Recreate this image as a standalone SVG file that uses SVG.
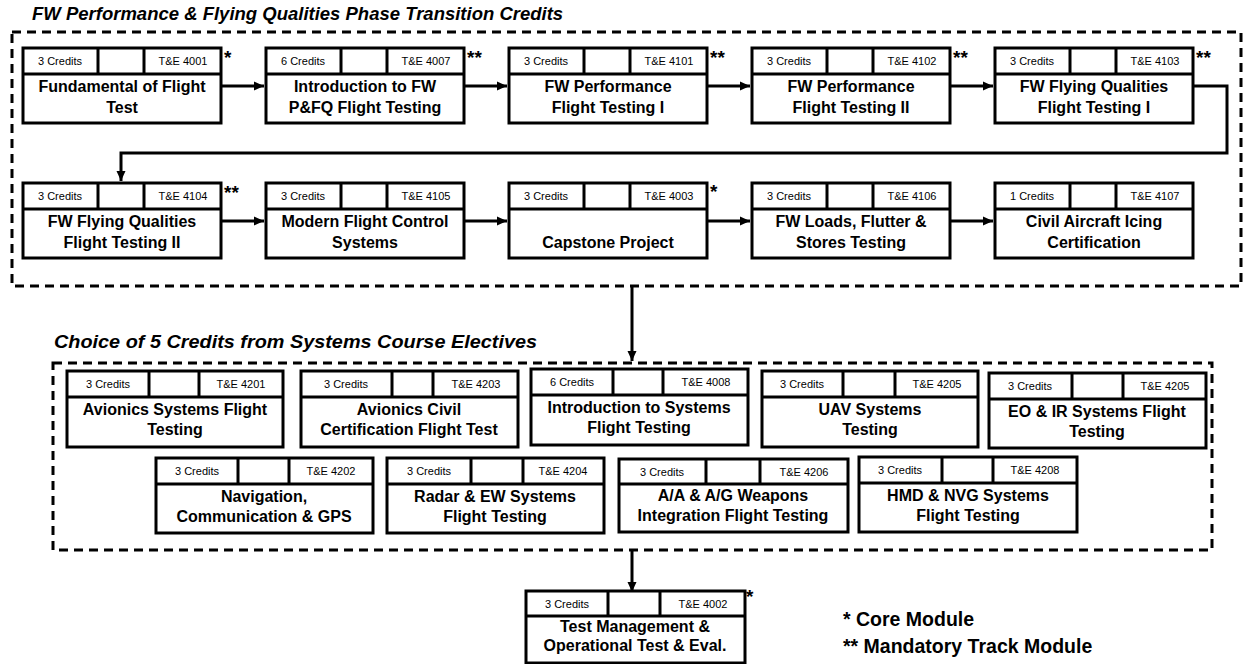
<svg xmlns="http://www.w3.org/2000/svg" width="1252" height="664" viewBox="0 0 1252 664">
<defs>
<style>
.frame{fill:none;stroke:#000;stroke-width:3;stroke-dasharray:9 6}
.nb{fill:#fff;stroke:#000;stroke-width:3}
.nl{fill:none;stroke:#000;stroke-width:3}
.sm{font-family:"Liberation Sans",Arial,sans-serif;font-size:11px;fill:#000;text-anchor:middle}
.tt{font-family:"Liberation Sans",Arial,sans-serif;font-size:16px;font-weight:bold;fill:#000;text-anchor:middle}
.hd{font-family:"Liberation Sans",Arial,sans-serif;font-size:18.5px;font-weight:bold;font-style:italic;fill:#000}
.st{font-family:"Liberation Sans",Arial,sans-serif;font-size:19px;font-weight:bold;fill:#000}
.lg{font-family:"Liberation Sans",Arial,sans-serif;font-size:19.5px;font-weight:bold;fill:#000}
.cn{fill:none;stroke:#000;stroke-width:3}
</style>
<marker id="ah" viewBox="0 0 10 10" refX="10" refY="5" markerWidth="10" markerHeight="10" markerUnits="userSpaceOnUse" orient="auto">
<path d="M0,0.5 L10,5 L0,9.5 Z" fill="#000"/>
</marker>
</defs>

<text class="hd" x="32" y="20">FW Performance &amp; Flying Qualities Phase Transition Credits</text>
<rect class="frame" x="12" y="32" width="1229" height="254"/>
<text class="hd" x="54" y="348" textLength="483" lengthAdjust="spacingAndGlyphs">Choice of 5 Credits from Systems Course Electives</text>
<rect class="frame" x="53" y="363" width="1159" height="187"/>

<g id="connectors">
<path class="cn" d="M222,86 H264" marker-end="url(#ah)"/>
<path class="cn" d="M465,86 H507" marker-end="url(#ah)"/>
<path class="cn" d="M708,86 H750" marker-end="url(#ah)"/>
<path class="cn" d="M951,86 H993" marker-end="url(#ah)"/>
<path class="cn" d="M1194,86 H1227 V153 H121 V181" marker-end="url(#ah)"/>
<path class="cn" d="M222,221 H264" marker-end="url(#ah)"/>
<path class="cn" d="M465,221 H507" marker-end="url(#ah)"/>
<path class="cn" d="M708,221 H750" marker-end="url(#ah)"/>
<path class="cn" d="M951,221 H993" marker-end="url(#ah)"/>
<path class="cn" d="M632,286 V361" marker-end="url(#ah)"/>
<path class="cn" d="M632,550 V592" marker-end="url(#ah)"/>
</g>

<!-- Row 1 -->
<g id="n4001" transform="translate(23,48)">
<rect class="nb" width="198" height="75"/><path class="nl" d="M0,26 H198 M75,0 V26 M121,0 V26"/>
<text class="sm" x="37" y="17">3 Credits</text><text class="sm" x="160" y="17">T&amp;E 4001</text>
<text class="tt" x="99" y="43.5">Fundamental of Flight</text><text class="tt" x="99" y="64.5">Test</text>
</g>
<g id="n4007" transform="translate(266,48)">
<rect class="nb" width="198" height="75"/><path class="nl" d="M0,26 H198 M75,0 V26 M121,0 V26"/>
<text class="sm" x="37" y="17">6 Credits</text><text class="sm" x="160" y="17">T&amp;E 4007</text>
<text class="tt" x="99" y="43.5">Introduction to FW</text><text class="tt" x="99" y="64.5">P&amp;FQ Flight Testing</text>
</g>
<g id="n4101" transform="translate(509,48)">
<rect class="nb" width="198" height="75"/><path class="nl" d="M0,26 H198 M75,0 V26 M121,0 V26"/>
<text class="sm" x="37" y="17">3 Credits</text><text class="sm" x="160" y="17">T&amp;E 4101</text>
<text class="tt" x="99" y="43.5">FW Performance</text><text class="tt" x="99" y="64.5">Flight Testing I</text>
</g>
<g id="n4102" transform="translate(752,48)">
<rect class="nb" width="198" height="75"/><path class="nl" d="M0,26 H198 M75,0 V26 M121,0 V26"/>
<text class="sm" x="37" y="17">3 Credits</text><text class="sm" x="160" y="17">T&amp;E 4102</text>
<text class="tt" x="99" y="43.5">FW Performance</text><text class="tt" x="99" y="64.5">Flight Testing II</text>
</g>
<g id="n4103" transform="translate(995,48)">
<rect class="nb" width="198" height="75"/><path class="nl" d="M0,26 H198 M75,0 V26 M121,0 V26"/>
<text class="sm" x="37" y="17">3 Credits</text><text class="sm" x="160" y="17">T&amp;E 4103</text>
<text class="tt" x="99" y="43.5">FW Flying Qualities</text><text class="tt" x="99" y="64.5">Flight Testing I</text>
</g>

<!-- Row 2 -->
<g id="n4104" transform="translate(23,183)">
<rect class="nb" width="198" height="75"/><path class="nl" d="M0,26 H198 M75,0 V26 M121,0 V26"/>
<text class="sm" x="37" y="17">3 Credits</text><text class="sm" x="160" y="17">T&amp;E 4104</text>
<text class="tt" x="99" y="43.5">FW Flying Qualities</text><text class="tt" x="99" y="64.5">Flight Testing II</text>
</g>
<g id="n4105" transform="translate(266,183)">
<rect class="nb" width="198" height="75"/><path class="nl" d="M0,26 H198 M75,0 V26 M121,0 V26"/>
<text class="sm" x="37" y="17">3 Credits</text><text class="sm" x="160" y="17">T&amp;E 4105</text>
<text class="tt" x="99" y="43.5">Modern Flight Control</text><text class="tt" x="99" y="64.5">Systems</text>
</g>
<g id="n4003" transform="translate(509,183)">
<rect class="nb" width="198" height="75"/><path class="nl" d="M0,26 H198 M75,0 V26 M121,0 V26"/>
<text class="sm" x="37" y="17">3 Credits</text><text class="sm" x="160" y="17">T&amp;E 4003</text>
<text class="tt" x="99" y="64.5">Capstone Project</text>
</g>
<g id="n4106" transform="translate(752,183)">
<rect class="nb" width="198" height="75"/><path class="nl" d="M0,26 H198 M75,0 V26 M121,0 V26"/>
<text class="sm" x="37" y="17">3 Credits</text><text class="sm" x="160" y="17">T&amp;E 4106</text>
<text class="tt" x="99" y="43.5">FW Loads, Flutter &amp;</text><text class="tt" x="99" y="64.5">Stores Testing</text>
</g>
<g id="n4107" transform="translate(995,183)">
<rect class="nb" width="198" height="75"/><path class="nl" d="M0,26 H198 M75,0 V26 M121,0 V26"/>
<text class="sm" x="37" y="17">1 Credits</text><text class="sm" x="160" y="17">T&amp;E 4107</text>
<text class="tt" x="99" y="43.5">Civil Aircraft Icing</text><text class="tt" x="99" y="64.5">Certification</text>
</g>

<!-- Electives row A -->
<g id="n4201" transform="translate(67,371)">
<rect class="nb" width="216" height="76"/><path class="nl" d="M0,26 H216 M82,0 V26 M132,0 V26"/>
<text class="sm" x="41" y="17">3 Credits</text><text class="sm" x="174" y="17">T&amp;E 4201</text>
<text class="tt" x="108" y="43.5">Avionics Systems Flight</text><text class="tt" x="108" y="63.5">Testing</text>
</g>
<g id="n4203" transform="translate(301,371)">
<rect class="nb" width="217" height="76"/><path class="nl" d="M0,26 H217 M91,0 V26 M132,0 V26"/>
<text class="sm" x="45" y="17">3 Credits</text><text class="sm" x="175" y="17">T&amp;E 4203</text>
<text class="tt" x="108" y="43.5">Avionics Civil</text><text class="tt" x="108" y="63.5">Certification Flight Test</text>
</g>
<g id="n4008" transform="translate(531,369)">
<rect class="nb" width="217" height="76"/><path class="nl" d="M0,26 H217 M82,0 V26 M132,0 V26"/>
<text class="sm" x="41" y="17">6 Credits</text><text class="sm" x="175" y="17">T&amp;E 4008</text>
<text class="tt" x="108" y="43.5">Introduction to Systems</text><text class="tt" x="108" y="63.5">Flight Testing</text>
</g>
<g id="n4205a" transform="translate(762,371)">
<rect class="nb" width="216" height="76"/><path class="nl" d="M0,26 H216 M81,0 V26 M133,0 V26"/>
<text class="sm" x="40" y="17">3 Credits</text><text class="sm" x="175" y="17">T&amp;E 4205</text>
<text class="tt" x="108" y="43.5">UAV Systems</text><text class="tt" x="108" y="63.5">Testing</text>
</g>
<g id="n4205b" transform="translate(989,373)">
<rect class="nb" width="217" height="75"/><path class="nl" d="M0,26 H217 M83,0 V26 M134,0 V26"/>
<text class="sm" x="41" y="17">3 Credits</text><text class="sm" x="176" y="17">T&amp;E 4205</text>
<text class="tt" x="108" y="43.5">EO &amp; IR Systems Flight</text><text class="tt" x="108" y="63.5">Testing</text>
</g>

<!-- Electives row B -->
<g id="n4202" transform="translate(156,458)">
<rect class="nb" width="217" height="75"/><path class="nl" d="M0,26 H217 M82,0 V26 M133,0 V26"/>
<text class="sm" x="41" y="17">3 Credits</text><text class="sm" x="175" y="17">T&amp;E 4202</text>
<text class="tt" x="108" y="43.5">Navigation,</text><text class="tt" x="108" y="63.5">Communication &amp; GPS</text>
</g>
<g id="n4204" transform="translate(387,458)">
<rect class="nb" width="217" height="75"/><path class="nl" d="M0,26 H217 M84,0 V26 M136,0 V26"/>
<text class="sm" x="42" y="17">3 Credits</text><text class="sm" x="176" y="17">T&amp;E 4204</text>
<text class="tt" x="108" y="43.5">Radar &amp; EW Systems</text><text class="tt" x="108" y="63.5">Flight Testing</text>
</g>
<g id="n4206" transform="translate(619,459)">
<rect class="nb" width="229" height="73"/><path class="nl" d="M0,25 H229 M87,0 V25 M141,0 V25"/>
<text class="sm" x="43" y="16.5">3 Credits</text><text class="sm" x="185" y="16.5">T&amp;E 4206</text>
<text class="tt" x="114" y="42">A/A &amp; A/G Weapons</text><text class="tt" x="114" y="62">Integration Flight Testing</text>
</g>
<g id="n4208" transform="translate(859,457)">
<rect class="nb" width="218" height="75"/><path class="nl" d="M0,26 H218 M83,0 V26 M134,0 V26"/>
<text class="sm" x="41" y="17">3 Credits</text><text class="sm" x="176" y="17">T&amp;E 4208</text>
<text class="tt" x="109" y="43.5">HMD &amp; NVG Systems</text><text class="tt" x="109" y="63.5">Flight Testing</text>
</g>

<!-- Final -->
<g id="n4002" transform="translate(526,591)">
<rect class="nb" width="219" height="72"/><path class="nl" d="M0,25 H219 M82,0 V25 M134,0 V25"/>
<text class="sm" x="41" y="16.5">3 Credits</text><text class="sm" x="177" y="16.5">T&amp;E 4002</text>
<text class="tt" x="109" y="40.5">Test Management &amp;</text><text class="tt" x="109" y="59.5">Operational Test &amp; Eval.</text>
</g>

<g id="stars">
<text class="st" x="224" y="64">*</text>
<text class="st" x="467" y="64">**</text>
<text class="st" x="710" y="64">**</text>
<text class="st" x="953" y="64">**</text>
<text class="st" x="1196" y="64">**</text>
<text class="st" x="224" y="199">**</text>
<text class="st" x="710" y="198">*</text>
<text class="st" x="746" y="603">*</text>
</g>

<g id="legend">
<text class="lg" x="843" y="626">* Core Module</text>
<text class="lg" x="843" y="653">** Mandatory Track Module</text>
</g>
</svg>
